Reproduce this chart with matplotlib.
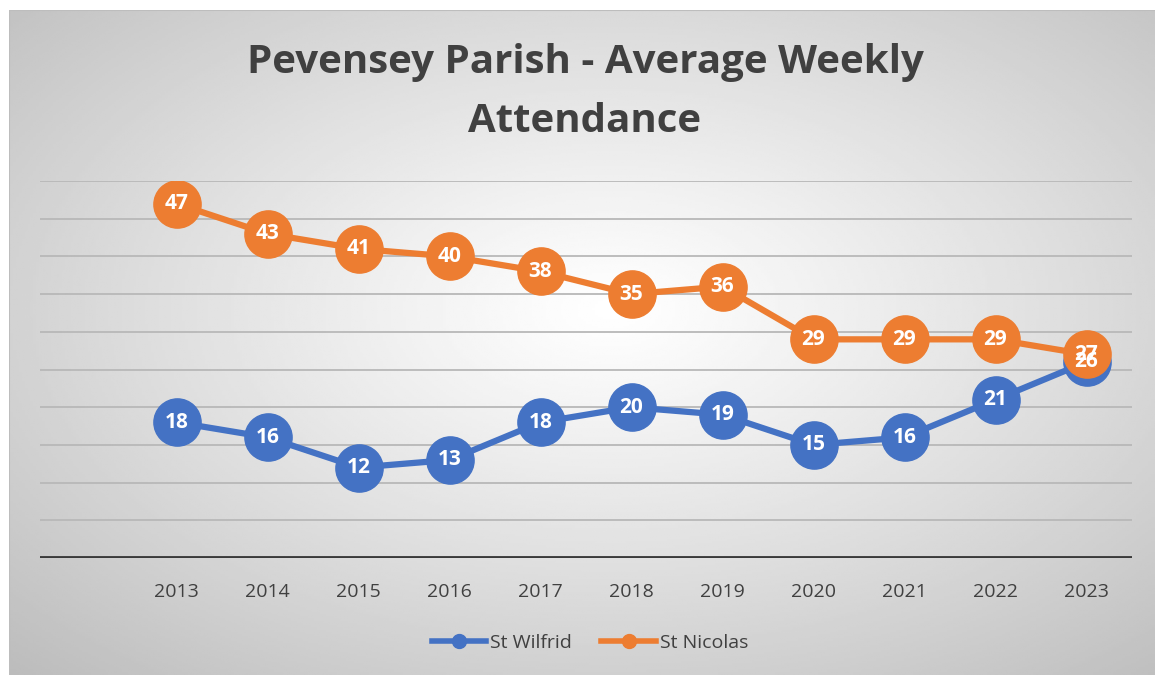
import numpy as np
import matplotlib.pyplot as plt
from matplotlib.lines import Line2D

# data
years = ['2013', '2014', '2015', '2016', '2017', '2018', '2019', '2020', '2021', '2022', '2023']
st_wilfrid = [18, 16, 12, 13, 18, 20, 19, 15, 16, 21, 26]
st_nicolas = [47, 43, 41, 40, 38, 35, 36, 29, 29, 29, 27]

blue = '#4472C4'
orange = '#ED7D31'
text_col = '#404040'
plt.rcParams['font.family'] = ['Open Sans', 'DejaVu Sans']

fig = plt.figure(figsize=(11.55, 6.75), dpi=100)

# radial gradient background
bg = fig.add_axes([9 / 1155, 0, 1 - 9 / 1155, 665 / 675])
gx, gy = np.meshgrid(np.linspace(-1, 1, 400), np.linspace(-1, 1, 300))
r = np.sqrt((gx - 0.05) ** 2 + (gy + 0.1) ** 2) / 1.45
shade = np.clip(1 - 0.25 * r ** 1.1, 0, 1)
bg.imshow(shade, cmap='gray', vmin=0, vmax=1, aspect='auto', extent=(0, 1, 0, 1))
bg.plot([0, 1], [1, 1], color='#bdbdbd', lw=1.5)
bg.plot([0, 0], [0, 1], color='#bdbdbd', lw=1.5)
bg.set_xlim(0, 1)
bg.set_ylim(0, 1)
bg.axis('off')

ax = fig.add_axes([40 / 1155, 117 / 675, 1092 / 1155, 377 / 675])
ax.patch.set_alpha(0)
x = np.arange(len(years))

for yv in range(5, 51, 5):
    ax.axhline(yv, color='#b8b8b8', lw=1.3, zorder=1)
ax.axhline(0, color='#3a3a3a', lw=3.5, zorder=2)

ax.plot(x, st_wilfrid, color=blue, lw=4.5, marker='o', markersize=34, zorder=3)
ax.plot(x, st_nicolas, color=orange, lw=4.5, marker='o', markersize=34, zorder=4)

for xi, v in zip(x, st_wilfrid):
    ax.text(xi, v, str(v), color='white', fontsize=15, fontweight='bold',
            ha='center', va='center', zorder=6)
for xi, v in zip(x, st_nicolas):
    ax.text(xi, v, str(v), color='white', fontsize=15, fontweight='bold',
            ha='center', va='center', zorder=6)

ax.set_xlim(-1.5, 10.5)
ax.set_ylim(0, 50)
ax.set_xticks(x)
ax.set_xticklabels(years, fontsize=14, color=text_col)
ax.tick_params(axis='x', length=0, pad=18)
ax.set_yticks([])
for s in ax.spines.values():
    s.set_visible(False)

fig.text(585 / 1155, 1 - 63 / 675, 'Pevensey Parish - Average Weekly', ha='center', va='center',
         fontsize=29, fontweight='bold', color=text_col)
fig.text(585 / 1155, 1 - 121 / 675, 'Attendance', ha='center', va='center',
         fontsize=29, fontweight='bold', color=text_col)

handles = [Line2D([], [], color=blue, lw=4, marker='o', markersize=10),
           Line2D([], [], color=orange, lw=4, marker='o', markersize=10)]
fig.legend(handles, ['St Wilfrid', 'St Nicolas'], loc='center', bbox_to_anchor=(590 / 1155, 1 - 643 / 675),
           ncol=2, frameon=False, fontsize=14, handlelength=2.8, columnspacing=1.5, handletextpad=0.2,
           labelcolor=text_col)

fig.savefig('out.png', dpi=100)
